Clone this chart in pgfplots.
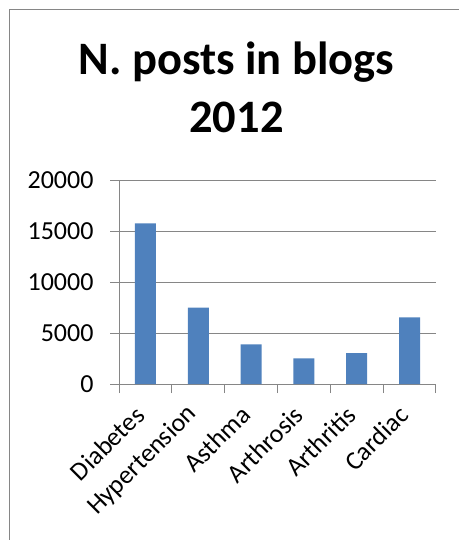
\documentclass[border=0pt]{standalone}
\usepackage{fontspec}
\setmainfont{Carlito}
\usepackage{pgfplots}
\pgfplotsset{compat=1.18}
\definecolor{barblue}{HTML}{4F81BD}
\definecolor{axgray}{HTML}{868686}
\begin{document}
\begin{tikzpicture}[x=1pt,y=1pt]
\path[use as bounding box] (0,0) rectangle (459,-540);
\draw[axgray, line width=1pt] (9,-540) -- (9,-10) -- (459,-10);
\node[font=\fontsize{46.5}{50}\selectfont\bfseries, anchor=base, inner sep=0pt] at (236.5,-75) {N. posts in blogs};
\node[font=\fontsize{46.5}{50}\selectfont\bfseries, anchor=base, inner sep=0pt] at (236.5,-133) {2012};
\begin{axis}[
  at={(119pt,-384pt)}, anchor=south west,
  scale only axis, width=317pt, height=204pt,
  xmin=-0.5, xmax=5.5, ymin=0, ymax=20000,
  axis x line=bottom, axis y line=left,
  axis line style={-, draw=axgray, line width=1pt},
  ymajorgrids, grid style={axgray, line width=1pt},
  scaled y ticks=false,
  ytick={0,5000,...,20000}, yticklabels={0,5000,10000,15000,20000},
  xtick={0,...,5}, xticklabels={Diabetes,Hypertension,Asthma,Arthrosis,Arthritis,Cardiac},
  minor xtick={-0.5,0.5,...,5.5},
  tick align=outside, major tick length=9pt, minor tick length=9pt,
  tick style={axgray, line width=1pt},
  major x tick style={draw=none},
  xticklabel style={xshift=-3pt, yshift=-15pt, rotate=45, anchor=east, font=\fontsize{26}{30}\selectfont},
  yticklabel style={xshift=-13pt, font=\fontsize{26}{30}\selectfont},
  ]
\addplot[ybar, bar width=21pt, fill=barblue, draw=none] coordinates {(0,15750)(1,7500)(2,3880)(3,2510)(4,3030)(5,6525)};
\end{axis}
\end{tikzpicture}
\end{document}
